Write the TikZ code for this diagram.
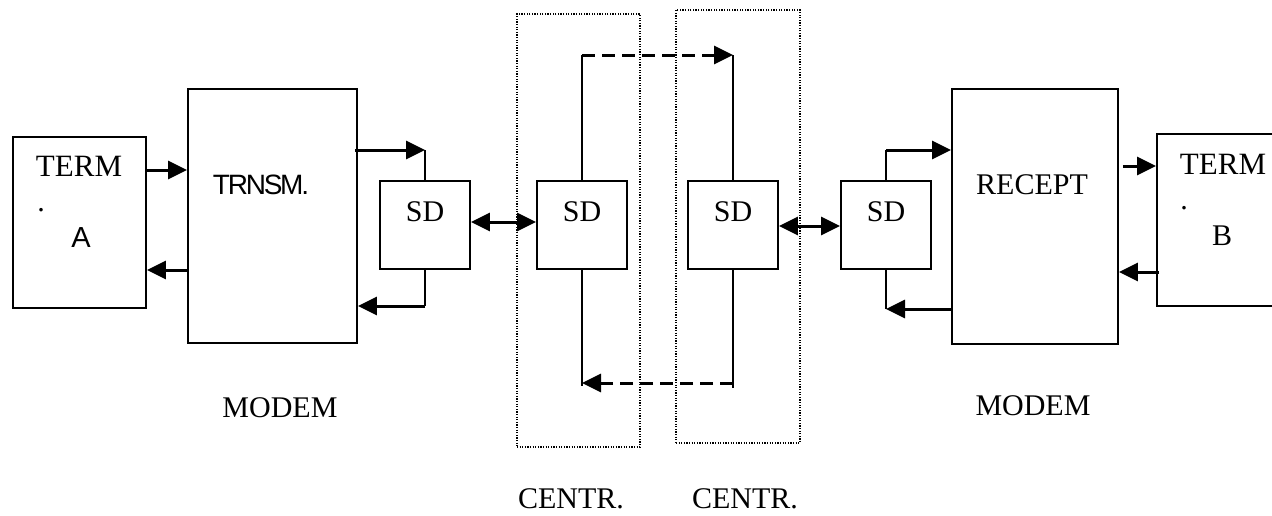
\documentclass[tikz,border=0pt]{standalone}
\usepackage{fontspec}
\setmainfont{Liberation Serif}
\newfontfamily\sansfont{Liberation Sans}
\newfontfamily\narrowfont[LetterSpace=-8]{Liberation Sans}
\usetikzlibrary{arrows.meta}

\begin{document}
\begin{tikzpicture}[x=1pt,y=-1pt,>={Triangle[length=19pt,width=18pt]},
  main node/.style={draw,line width=1.8pt,inner sep=0pt},
  centr node/.style={draw,line width=1.3pt,dash pattern=on 1.2pt off 1.4pt,inner sep=0pt},
  text node/.style={font=\fontsize{30}{36}\selectfont,inner sep=0pt},
  conn/.style={line width=3pt},
  stub/.style={line width=1.8pt}]
  \clip (0,0) rectangle (1272,515);
  % the two exchanges
  \node[centr node, minimum width=123pt, minimum height=433pt] (c1) at (578.5,230.5) {};
  \node[centr node, minimum width=124pt, minimum height=433pt] (c2) at (738,226.5)   {};
  % boxes
  \node[main node, minimum width=133pt, minimum height=171pt] (terma)  at (79.5,222.5)  {};
  \node[main node, minimum width=169pt, minimum height=254pt] (trnsm)  at (272.5,216)   {};
  \node[main node, minimum width=90pt,  minimum height=88pt]  (sd1)    at (425,225)     {};
  \node[main node, minimum width=90pt,  minimum height=88pt]  (sd2)    at (582,225)     {};
  \node[main node, minimum width=90pt,  minimum height=88pt]  (sd3)    at (733,225)     {};
  \node[main node, minimum width=90pt,  minimum height=88pt]  (sd4)    at (886,225)     {};
  \node[main node, minimum width=166pt, minimum height=255pt] (recept) at (1035,216.5)  {};
  \node[main node, minimum width=133pt, minimum height=172pt] (termb)  at (1223.5,220) {};
  % texts
  \node[text node,font=\fontsize{31}{36}\selectfont] (ta1) at (79,166) {TERM};
  \node[text node] (ta2) at (41,210)   {.};
  \node[text node,font=\sansfont\fontsize{29}{34}\selectfont] (ta3) at (81,238) {A};
  \node[text node,font=\narrowfont\fontsize{28}{32}\selectfont] (tr) at (261,185) {TRNSM.};
  \node[text node] (s1) at (425,212)   {SD};
  \node[text node] (s2) at (582,212)   {SD};
  \node[text node] (s3) at (733,212)   {SD};
  \node[text node] (s4) at (886,212)   {SD};
  \node[text node] (rc) at (1032,185)  {RECEPT};
  \node[text node,font=\fontsize{31}{36}\selectfont] (tb1) at (1223,164) {TERM};
  \node[text node] (tb2) at (1184,208) {.};
  \node[text node] (tb3) at (1222,236) {B};
  \node[text node] (m1) at (280,408)   {MODEM};
  \node[text node] (m2) at (1033,406)  {MODEM};
  \node[text node] (n1) at (571,499)   {CENTR.};
  \node[text node] (n2) at (745,499)   {CENTR.};
  % terminal A and transmitter
  \draw[conn,->] (terma.east|-0,170) -- (trnsm.west|-0,170);
  \draw[conn,->] (trnsm.west|-0,270) -- (terma.east|-0,270);
  \draw[conn,->] ([xshift=-3pt]trnsm.east|-0,150) -- (sd1.north|-0,150);
  \draw[stub] (sd1.north|-0,150) -- (sd1.north);
  \draw[stub] (sd1.south) -- (sd1.south|-0,306);
  \draw[conn,->] (sd1.south|-0,306) -- (trnsm.east|-0,306);
  % line between the exchanges
  \draw[conn,<->] (sd1.east|-0,222) -- (sd2.west|-0,222);
  \draw[stub] (sd2.north) -- (sd2.north|-0,55);
  \draw[conn,dash pattern=on 13pt off 7pt,->] (sd2.north|-0,55) -- (sd3.north|-0,55);
  \draw[stub] (sd3.north|-0,55) -- (sd3.north);
  \draw[stub] (sd2.south) -- (sd2.south|-0,386);
  \draw[stub] (sd3.south) -- (sd3.south|-0,388);
  \draw[conn,dash pattern=on 13pt off 7pt,->] (sd3.south|-0,383) -- (sd2.south|-0,383);
  \draw[conn,<->] (sd3.east|-0,226) -- (sd4.west|-0,226);
  % receiver and terminal B
  \draw[stub] (sd4.north) -- (sd4.north|-0,150);
  \draw[conn,->] (sd4.north|-0,150) -- (recept.west|-0,150);
  \draw[conn,->] (recept.west|-0,309) -- (sd4.south|-0,309);
  \draw[stub] (sd4.south|-0,309) -- (sd4.south);
  \draw[conn,->] ([xshift=4pt]recept.east|-0,166) -- (termb.west|-0,166);
  \draw[conn,->] ([xshift=3pt]termb.west|-0,272) -- (recept.east|-0,272);
\end{tikzpicture}
\end{document}
